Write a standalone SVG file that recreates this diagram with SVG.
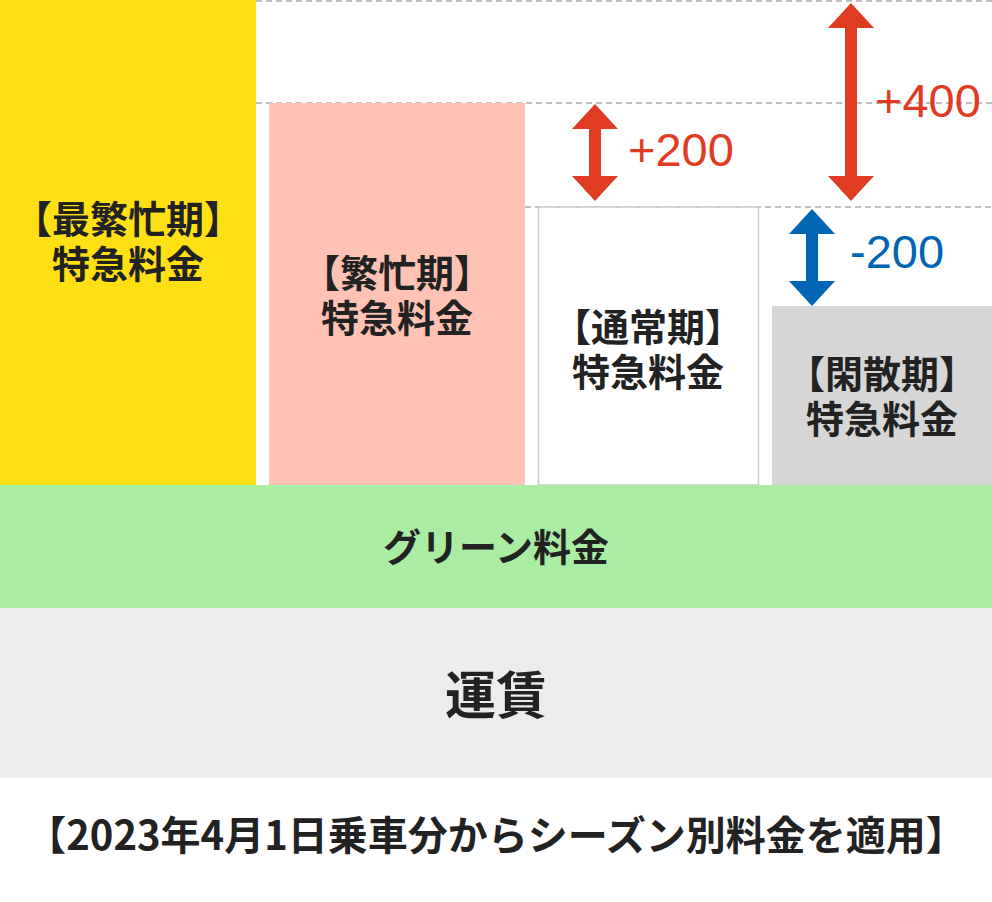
<svg xmlns="http://www.w3.org/2000/svg" width="992" height="902" viewBox="0 0 992 902">
<style>
text{font-family:"Noto Sans CJK JP","Noto Sans",sans-serif;font-weight:bold;text-anchor:middle;fill:#222}
.l{font-size:38px}
.n{font-family:"Liberation Sans","Noto Sans",sans-serif;font-weight:normal;font-size:47px;text-anchor:start}
.d{stroke:#aaa;stroke-width:1.5;stroke-dasharray:6 4}
</style>
<rect width="992" height="902" fill="#fff"/>
<g id="guides">
<line class="d" x1="256" y1="1" x2="992" y2="1"/>
<line class="d" x1="256" y1="103" x2="992" y2="103"/>
<line class="d" x1="525" y1="207" x2="992" y2="207"/>
</g>
<g id="peak"><rect x="0" y="0" width="256" height="485" fill="#ffe015"/>
<text class="l" x="128" y="233">【最繁忙期】</text><text class="l" x="128" y="278">特急料金</text></g>
<g id="busy"><rect x="269" y="103" width="256" height="382" fill="#ffc2b4"/>
<text class="l" x="397" y="287">【繁忙期】</text><text class="l" x="397" y="332">特急料金</text></g>
<g id="normal"><rect x="538.5" y="207" width="220" height="278" fill="#fff" stroke="#ccc" stroke-width="1.5"/>
<text class="l" x="648" y="341">【通常期】</text><text class="l" x="648" y="386">特急料金</text></g>
<g id="off"><rect x="772" y="306" width="220" height="179" fill="#d6d6d6"/>
<text class="l" x="882" y="388">【閑散期】</text><text class="l" x="882" y="433">特急料金</text></g>
<g id="green"><rect x="0" y="485" width="992" height="123" fill="#a8eda1"/>
<text x="496" y="561" font-size="38">グリーン料金</text></g>
<g id="fare"><rect x="0" y="608" width="992" height="170" fill="#ececec"/>
<text x="496" y="714" font-size="51">運賃</text></g>
<g id="connectors">
<path d="M595,104 L618,129 L601,129 L601,176 L618,176 L595,201 L572,176 L589,176 L589,129 L572,129 Z" fill="#e03c24"/>
<path d="M851,3 L874,28 L857,28 L857,176 L874,176 L851,201 L828,176 L845,176 L845,28 L828,28 Z" fill="#e03c24"/>
<path d="M812,209 L835,234 L818,234 L818,281 L835,281 L812,306 L789,281 L806,281 L806,234 L789,234 Z" fill="#0066b3"/>
<text class="n" x="628" y="166" style="fill:#e03c24">+200</text>
<text class="n" x="875" y="117" style="fill:#e03c24">+400</text>
<text class="n" x="850" y="268" style="fill:#0066b3">-200</text>
</g>
<text x="496" y="850" font-size="40">【2023年4月1日乗車分からシーズン別料金を適用】</text>
</svg>
